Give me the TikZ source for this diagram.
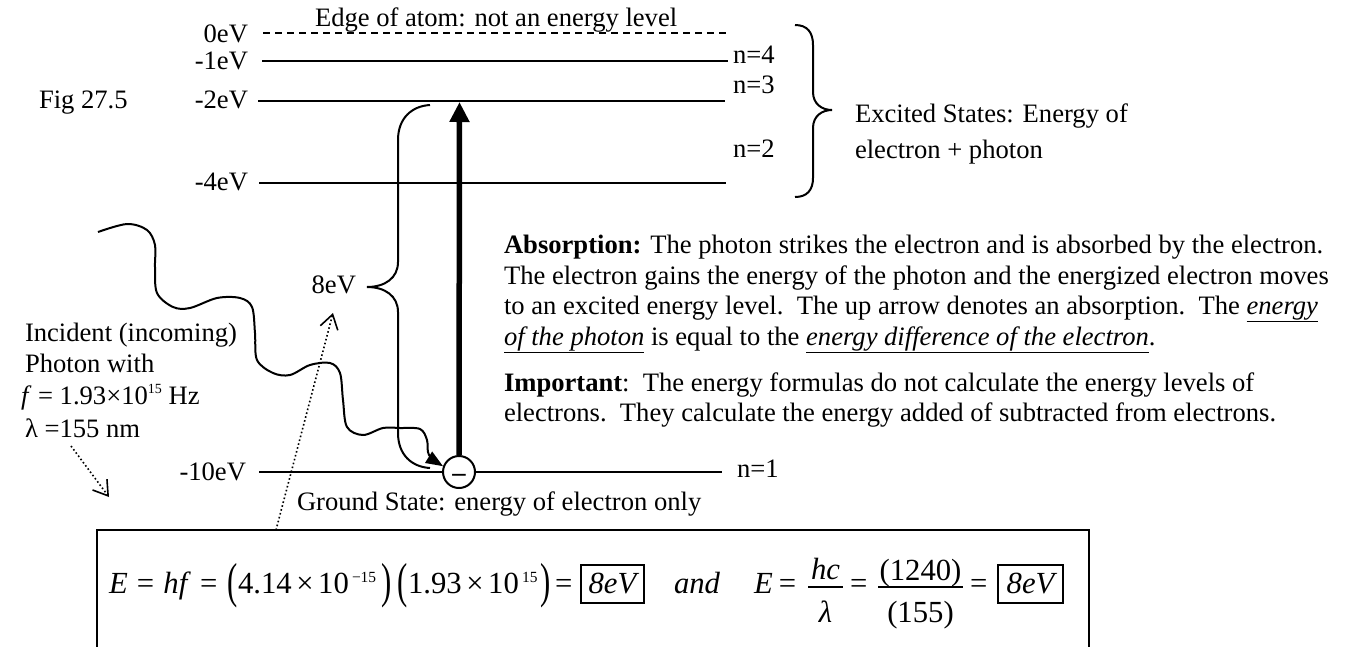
\documentclass[tikz,border=0pt]{standalone}
\usepackage{fontspec}
\setmainfont{Liberation Serif}
\usepackage{graphicx}
\usetikzlibrary{arrows.meta}
\tikzset{
  txt/.style={inner sep=0pt, outer sep=0pt, font=\fontsize{26.6}{30.6}\selectfont},
  eqf/.style={inner sep=0pt, outer sep=0pt, font=\fontsize{30.7}{34}\selectfont},
  supf/.style={inner sep=0pt, outer sep=0pt, font=\fontsize{15.5}{17}\selectfont},
  level/.style={line width=2pt},
  edgeline/.style={line width=2pt, dash pattern=on 7pt off 5pt},
  bracestyle/.style={line width=2pt},
  dotarrow/.style={line width=1.6pt, dash pattern=on 1.6pt off 2.4pt, -{Straight Barb[length=14pt,width=18pt]}},
  boxed/.style={draw, line width=1.6pt, inner sep=0pt, minimum height=38pt, font=\fontsize{30.7}{34}\selectfont\itshape},
  electron/.style={circle, draw, line width=2pt, fill=white, minimum size=32pt, inner sep=0pt, text height=0pt, text depth=0pt, font=\fontsize{26.6}{30.6}\selectfont\bfseries},
}
\newcommand{\bigpar}[1]{\raisebox{-4pt}{\scalebox{1}[1.6]{#1}}}
\begin{document}
\begin{tikzpicture}[x=1pt,y=-1pt]
\useasboundingbox (0,0) rectangle (1351,646);
\clip (0,0) rectangle (1351,646);

% ---------- level labels ----------
\node[txt, anchor=base west] (edge) at (315,26) {Edge of atom: not an energy level};
\node[txt, anchor=base east] (l0) at (248,42) {0eV};
\node[txt, anchor=base east] (l1) at (248,69) {-1eV};
\node[txt, anchor=base east] (l2) at (248,108) {-2eV};
\node[txt, anchor=base east] (l4) at (248,190) {-4eV};
\node[txt, anchor=base east] (l10) at (246,480) {-10eV};
\node[txt, anchor=base west] (fig) at (39,108) {Fig 27.5};
\node[txt, anchor=base west] (n4) at (733,63) {n=4};
\node[txt, anchor=base west] (n3) at (733,93) {n=3};
\node[txt, anchor=base west] (n2) at (733,157) {n=2};
\node[txt, anchor=base west] (n1) at (737,477) {n=1};

% ---------- level lines ----------
\coordinate (a0) at (263,33);  \coordinate (b0) at (730,33);
\coordinate (a1) at (262,61);  \coordinate (b1) at (728,61);
\coordinate (a2) at (258,101); \coordinate (b2) at (725,101);
\coordinate (a4) at (259,183); \coordinate (b4) at (726,183);
\coordinate (a10) at (259,472); \coordinate (b10) at (722,472);
\draw[edgeline] (a0) -- (b0);
\draw[level] (a1) -- (b1);
\draw[level] (a2) -- (b2);
\draw[level] (a4) -- (b4);

% electron
\node[electron] (el) at (459,472) {\raisebox{-9pt}{\smash{–}}};
\draw[level] (a10) -- (el.west);
\draw[level] (el.east) -- (b10);

% absorption arrow
\coordinate (atip) at (459.5,102);
\draw[line width=5.5pt, -{Triangle[length=20pt,width=19pt]}] (el.north) -- (atip);

% ---------- braces ----------
\draw[bracestyle] (795,25) .. controls (807,25) and (813,32) .. (813,45) -- (813,92)
  .. controls (813,104) and (822,110) .. (832,110)
  .. controls (822,110) and (813,116) .. (813,128) -- (813,178)
  .. controls (813,190) and (807,197) .. (795,197);
\node[txt, anchor=base west] (exc1) at (855,122) {Excited States: Energy of};
\node[txt, anchor=base west] (exc2) at (855,158) {electron + photon};

\draw[bracestyle] (430,105) .. controls (412,106) and (398,118) .. (398,140) -- (398,262)
  .. controls (398,278) and (385,287) .. (367,287)
  .. controls (385,287) and (398,296) .. (398,312) -- (398,433)
  .. controls (398,455) and (412,467) .. (430,468);
\node[txt, anchor=base east] (ev8) at (356,293) {8eV};

% ---------- photon ----------
\coordinate (ph0) at (98,232);
\draw[line width=2pt, -{Triangle[length=17pt,width=13pt]}]
  plot[smooth, tension=0.55] coordinates {(ph0) (127,224) (147,230) (155,245) (155,267) (157,293)
  (173,307) (190,308) (217,298) (240,298) (252,307) (255,333) (257,360) (273,373) (290,375)
  (310,365) (330,363) (340,373) (343,400) (347,427) (363,435) (383,428) (400,428) (420,429)
  (427,440) (429,455) (el.160)};

\node[txt, anchor=base west] (inc1) at (25,341) {Incident (incoming)};
\node[txt, anchor=base west] (inc2) at (25,372) {Photon with};
\node[txt, anchor=base west] (inc3) at (21,404) {\textit{f} = 1.93×10\raisebox{11pt}{\fontsize{14}{14}\selectfont 15} Hz};
\node[txt, anchor=base west] (inc4) at (25,437) {λ =155 nm};

\node[txt, anchor=base west] (gs) at (297,510) {Ground State: energy of electron only};

% dotted arrows
\coordinate (d1s) at (71,446); \coordinate (d1e) at (109,497);
\draw[dotarrow] (d1s) -- (d1e);
\coordinate (d2s) at (276,530); \coordinate (d2e) at (333,313);
\draw[dotarrow] (d2s) -- (d2e);

% ---------- paragraph ----------
\node[txt, anchor=base west] (p1) at (504,253.5) {\textbf{Absorption:} The photon strikes the electron and is absorbed by the electron.};
\node[txt, anchor=base west] (p2) at (504,284) {The electron gains the energy of the photon and the energized electron moves};
\node[txt, anchor=base west] (p3) at (504,314.5) {to an excited energy level.\ \ The up arrow denotes an absorption.\ \ The \underline{\textit{energy}}};
\node[txt, anchor=base west] (p4) at (504,345) {\underline{\textit{of the photon}} is equal to the \underline{\textit{energy difference of the electron}}.};
\node[txt, anchor=base west] (p5) at (504,391) {\textbf{Important}:\ \ The energy formulas do not calculate the energy levels of};
\node[txt, anchor=base west] (p6) at (504,421.5) {electrons.\ \ They calculate the energy added of subtracted from electrons.};

% ---------- formula box ----------
\draw[line width=2pt] (97,700) -- (97,530) -- (1089,530) -- (1089,700);

\node[eqf, anchor=base west] (fa) at (109,593) {\textit{E}\hspace{0.3em}=\hspace{0.3em}\textit{hf}\hspace{0.3em}=};
\node[eqf, anchor=base west] (fp1) at (227,593) {\bigpar{(}};
\node[eqf, anchor=base west] (fn1) at (238,593) {4.14\kern0.15em×\kern0.15em10};
\node[supf, anchor=base west] (fs1) at (352,582) {−15};
\node[eqf, anchor=base west] (fp2) at (381,593) {\bigpar{)}};
\node[eqf, anchor=base west] (fp3) at (397,593) {\bigpar{(}};
\node[eqf, anchor=base west] (fn2) at (408,593) {1.93\kern0.15em×\kern0.15em10};
\node[supf, anchor=base west] (fs2) at (522,582) {15};
\node[eqf, anchor=base west] (fp4) at (540,593) {\bigpar{)}};
\node[eqf, anchor=base west] (feq1) at (555,593) {=};
\node[boxed, minimum width=63pt] (bx1) at (612.5,584) {8eV};
\node[eqf, anchor=base west] (fand) at (674,593) {\textit{and}};
\node[eqf, anchor=base west] (fE2) at (754,593) {\textit{E}\hspace{0.2em}=};
\node[eqf, anchor=base] (fr1n) at (825.5,579) {\textit{hc}};
\node[eqf, anchor=base] (fr1d) at (825.5,622) {\textit{λ}};
\draw[line width=1.6pt] (808,587) -- (843,587);
\node[eqf, anchor=base west] (feq2) at (850,593) {=};
\node[eqf, anchor=base] (fr2n) at (920.5,580) {(1240)};
\node[eqf, anchor=base] (fr2d) at (920.5,622) {(155)};
\draw[line width=1.6pt] (878,587) -- (963,587);
\node[eqf, anchor=base west] (feq3) at (970,593) {=};
\node[boxed, minimum width=65pt] (bx2) at (1030.5,584) {8eV};
\end{tikzpicture}
\end{document}
